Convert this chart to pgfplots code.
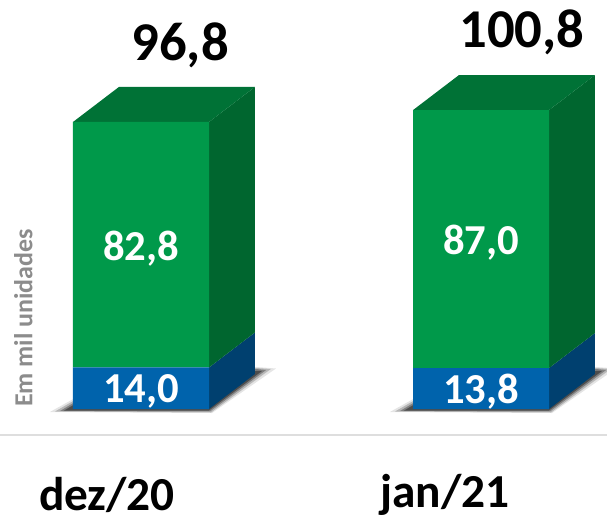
\documentclass[border=0pt]{standalone}
\usepackage{fontspec}
\setmainfont{Carlito}
\usepackage{pgfplots}
\pgfplotsset{compat=1.18}
\definecolor{gfront}{HTML}{00994A}
\definecolor{gtop}{HTML}{007236}
\definecolor{gside}{HTML}{00662F}
\definecolor{bfront}{HTML}{0063AC}
\definecolor{bside}{HTML}{00406F}
\pgfplotsset{base/.style={
  width=455.25pt,height=390.75pt,scale only axis,axis lines=none,
  xmin=-0.4147,xmax=1.3706,ymin=-37.77,ymax=137.94,clip=false}}
\begin{document}
\begin{tikzpicture}
\begin{axis}[base,name=a]
% ground line
\addplot[draw=black!13,line width=1.5pt,forget plot] coordinates {(-0.4147,-8.77) (1.3706,-8.77)};
% shadows
\addplot[fill=black,fill opacity=.1,draw=none] coordinates {(-.268,-1.01)(-.194,3.71)(.338,14.17)(.397,13.66)(.209,-1.35)} -- cycle;
\addplot[fill=black,fill opacity=.2,draw=none] coordinates {(-.253,-.84)(-.194,3.04)(.338,13.83)(.382,13.49)(.206,-1.18)} -- cycle;
\addplot[fill=black,fill opacity=.3,draw=none] coordinates {(-.238,-.67)(-.194,2.36)(.338,13.49)(.368,13.15)(.203,-.84)} -- cycle;
\addplot[fill=black,fill opacity=.4,draw=none] coordinates {(-.226,-.51)(-.194,1.69)(.338,12.82)(.356,12.82)(.2,-.51)} -- cycle;
\addplot[fill=black,fill opacity=.1,draw=none] coordinates {(.732,-1.01)(.806,3.71)(1.338,14.17)(1.397,13.66)(1.209,-1.35)} -- cycle;
\addplot[fill=black,fill opacity=.2,draw=none] coordinates {(.747,-.84)(.806,3.04)(1.338,13.83)(1.382,13.49)(1.206,-1.18)} -- cycle;
\addplot[fill=black,fill opacity=.3,draw=none] coordinates {(.762,-.67)(.806,2.36)(1.338,13.49)(1.368,13.15)(1.203,-.84)} -- cycle;
\addplot[fill=black,fill opacity=.4,draw=none] coordinates {(.774,-.51)(.806,1.69)(1.338,12.82)(1.356,12.82)(1.2,-.51)} -- cycle;
% side faces and tops
\addplot[fill=bside,draw=none] coordinates {(.2,0)(.2,14.0)(.335,25.8)(.335,11.8)} -- cycle;
\addplot[fill=gside,draw=none] coordinates {(.2,14.0)(.2,96.8)(.335,108.6)(.335,25.8)} -- cycle;
\addplot[fill=gtop,draw=none] coordinates {(-.2,96.8)(.2,96.8)(.335,108.6)(-.065,108.6)} -- cycle;
\addplot[fill=bside,draw=none] coordinates {(1.2,0)(1.2,13.8)(1.335,25.6)(1.335,11.8)} -- cycle;
\addplot[fill=gside,draw=none] coordinates {(1.2,13.8)(1.2,100.8)(1.335,112.6)(1.335,25.6)} -- cycle;
\addplot[fill=gtop,draw=none] coordinates {(.8,100.8)(1.2,100.8)(1.335,112.6)(.935,112.6)} -- cycle;
\end{axis}
\begin{axis}[base,ybar stacked,bar width=102pt]
\addplot[fill=bfront,draw=none] coordinates {(0,14.0)(1,13.8)};
\addplot[fill=gfront,draw=none] coordinates {(0,82.8)(1,87.0)};
\end{axis}
\begin{axis}[base]
\node[font=\bfseries,text=white] at (axis cs:0,5.9) {\fontsize{32}{32}\selectfont 14,0};
\node[font=\bfseries,text=white] at (axis cs:1,5.9) {\fontsize{32}{32}\selectfont 13,8};
\node[font=\bfseries,text=white] at (axis cs:0,54) {\fontsize{32}{32}\selectfont 82,8};
\node[font=\bfseries,text=white] at (axis cs:1,56) {\fontsize{32}{32}\selectfont 87,0};
\node[font=\bfseries] at (axis cs:.115,122.8) {\fontsize{41}{41}\selectfont 96,8};
\node[font=\bfseries] at (axis cs:1.12,127.1) {\fontsize{41}{41}\selectfont 100,8};
\node[font=\bfseries,inner sep=0pt] at (axis cs:-.1,-29) {\fontsize{35.5}{35.5}\selectfont dez/20};
\node[font=\bfseries,inner sep=0pt] at (axis cs:.894,-29) {\fontsize{35.5}{35.5}\selectfont jan/21};
\node[font=\bfseries,text=black!45,rotate=90] at (axis cs:-.346,30.7) {\fontsize{19.5}{19.5}\selectfont Em mil unidades};
\end{axis}
\pgfresetboundingbox
\path (a.south west) rectangle (a.north east);
\end{tikzpicture}
\end{document}
